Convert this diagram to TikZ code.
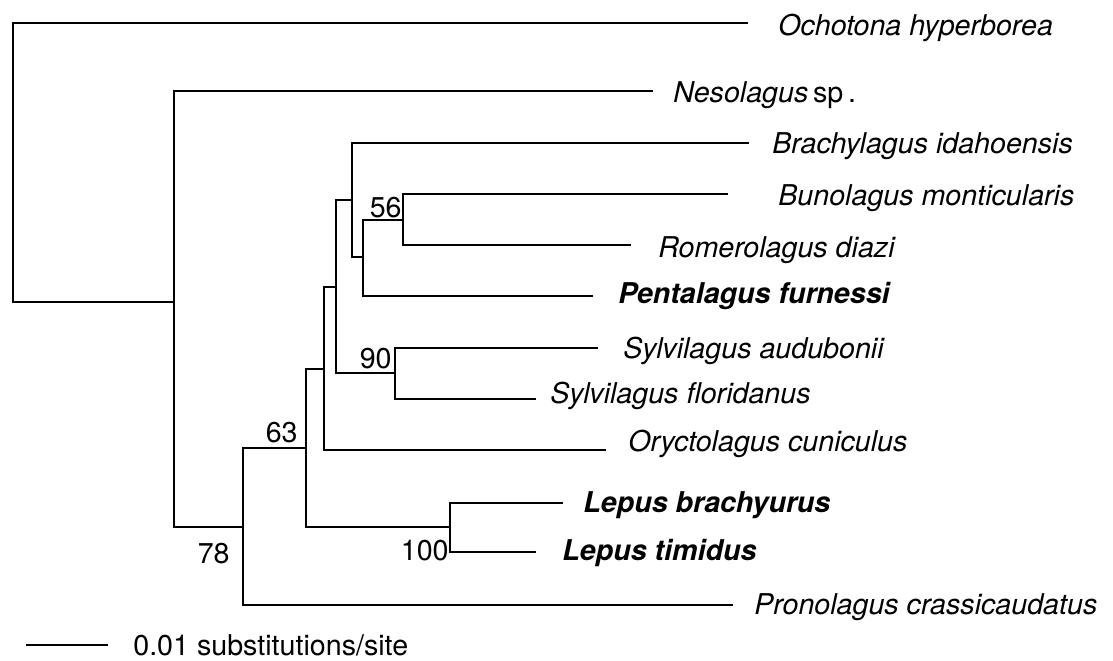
\documentclass[tikz,border=0pt]{standalone}
\usepackage{fontspec}
\setmainfont{TeX Gyre Heros}
\newcommand{\taxon}[1]{\textit{#1}}
\newcommand{\taxonbf}[1]{\textbf{\textit{#1}}}

\begin{document}
\begin{tikzpicture}[x=0.02cm,y=-0.02cm,
  branch/.style={line width=1.3pt, line cap=rect},
  leaf/.style={anchor=base west, inner sep=0pt, font=\fontsize{16.3}{19}\selectfont},
  boot/.style={anchor=base east, inner sep=0pt, font=\fontsize{16.3}{19}\selectfont}]
\useasboundingbox (0,0) rectangle (1113,660);

% internal nodes
\coordinate (root) at (13,302);
\coordinate (nA)   at (174,302);
\coordinate (nB)   at (243,527);
\coordinate (nC)   at (306,448);
\coordinate (nD)   at (324,369);
\coordinate (nE)   at (336,287);
\coordinate (nF)   at (352,200);
\coordinate (nG)   at (363,257);
\coordinate (nH)   at (403,220);
\coordinate (nSyl) at (395,373);
\coordinate (nLep) at (450,527);

% tips
\coordinate (ocho)   at (747,23);
\coordinate (neso)   at (652,91);
\coordinate (brach)  at (748,143);
\coordinate (buno)   at (727,194);
\coordinate (romero) at (630,245);
\coordinate (penta)  at (592,296);
\coordinate (saud)   at (597,348);
\coordinate (sflor)  at (535,399);
\coordinate (orycto) at (605,450);
\coordinate (lbrach) at (562,503);
\coordinate (ltim)   at (535,552);
\coordinate (prono)  at (732,605);

\node[leaf] (ochoL)   at (778,35)  {\taxon{Ochotona hyperborea}};
\node[leaf] (nesoL)   at (673,102) {\taxon{Nesolagus}\,sp\,.};
\node[leaf] (brachL)  at (772,153) {\taxon{Brachylagus idahoensis}};
\node[leaf] (bunoL)   at (778,205) {\taxon{Bunolagus monticularis}};
\node[leaf] (romeroL) at (658,257) {\taxon{Romerolagus diazi}};
\node[leaf] (pentaL)  at (618,303) {\taxonbf{Pentalagus furnessi}};
\node[leaf] (saudL)   at (623,358) {\taxon{Sylvilagus audubonii}};
\node[leaf] (sflorL)  at (550,403) {\taxon{Sylvilagus floridanus}};
\node[leaf] (oryctoL) at (628,451) {\taxon{Oryctolagus cuniculus}};
\node[leaf] (lbrachL) at (583,512) {\taxonbf{Lepus brachyurus}};
\node[leaf] (ltimL)   at (562,560) {\taxonbf{Lepus timidus}};
\node[leaf] (pronoL)  at (754,614) {\taxon{Pronolagus crassicaudatus}};

\draw[branch] (root) |- (ocho);
\draw[branch] (root) |- (nA);
\draw[branch] (nA) |- (neso);
\draw[branch] (nA) |- (nB);
\draw[branch] (nB) |- (nC);
\draw[branch] (nB) |- (prono);
\draw[branch] (nC) |- (nD);
\draw[branch] (nC) |- (nLep);
\draw[branch] (nD) |- (nE);
\draw[branch] (nD) |- (orycto);
\draw[branch] (nE) |- (nF);
\draw[branch] (nE) |- (nSyl);
\draw[branch] (nF) |- (brach);
\draw[branch] (nF) |- (nG);
\draw[branch] (nG) |- (nH);
\draw[branch] (nG) |- (penta);
\draw[branch] (nH) |- (buno);
\draw[branch] (nH) |- (romero);
\draw[branch] (nSyl) |- (saud);
\draw[branch] (nSyl) |- (sflor);
\draw[branch] (nLep) |- (lbrach);
\draw[branch] (nLep) |- (ltim);

% bootstrap values
\node[boot] (b56)  at (402,217) {56};
\node[boot] (b90)  at (392,368) {90};
\node[boot] (b63)  at (298,442) {63};
\node[boot] (b78)  at (230,563) {78};
\node[boot] (b100) at (449,560) {100};

% scale bar
\coordinate (barL) at (27,645);
\coordinate (barR) at (107,645);
\draw[branch] (barL) -- (barR);
\node[leaf] (barT) at (133,655) {0.01 substitutions/site};
\end{tikzpicture}
\end{document}
